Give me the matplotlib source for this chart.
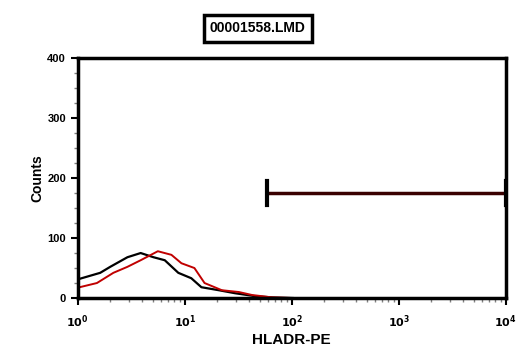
import numpy as np
import matplotlib as mpl
mpl.use('Agg')
import matplotlib.pyplot as plt
from matplotlib.ticker import MultipleLocator, FixedLocator

# data
black_x = [1.0, 1.04, 1.62, 2.01, 2.91, 3.87, 5.1, 6.5, 8.7, 11.5, 14.3, 20.8, 29.5, 45.6, 66, 102]
black_y = [32, 32, 42, 52, 68, 75, 68, 63, 42, 33, 18, 13, 8, 3, 1, 0]
red_x = [1.0, 1.04, 1.51, 2.15, 2.91, 3.87, 5.6, 7.5, 9.3, 12.3, 15.3, 22.2, 32, 42.6, 66, 102]
red_y = [18, 18, 25, 42, 52, 63, 78, 72, 58, 50, 25, 13, 10, 5, 1, 0]
gate_lo, gate_hi, gate_level = 59, 10000, 175
title = '00001558.LMD'
y_ticks = [0, 100, 200, 300, 400]
x_ticks = [1, 10, 100, 1000, 10000]

plt.rcParams['font.family'] = ['Liberation Sans', 'DejaVu Sans']
plt.rcParams['font.weight'] = 'bold'

fig = plt.figure(figsize=(5.22, 3.63), dpi=100)
ax = fig.add_axes([0.149, 0.179, 0.820, 0.661])

ax.plot(black_x, black_y, color='black', lw=1.6)
ax.plot(red_x, red_y, color='#c00000', lw=1.4)

# marker
ax.plot([gate_lo, gate_hi], [gate_level, gate_level], color='#3a0000', lw=2.5)
ax.plot([gate_lo, gate_lo], [gate_level - 20, gate_level + 20], color='black', lw=3)
ax.plot([gate_hi, gate_hi], [gate_level - 20, gate_level + 20], color='black', lw=3)

ax.set_xscale('log')
ax.set_xlim(1, 10000)
ax.set_ylim(0, 400)
ax.set_xticks(x_ticks)
ax.set_xticklabels(['$10^{%d}$' % i for i in range(5)])
ax.set_yticks(y_ticks)
ax.yaxis.set_minor_locator(MultipleLocator(25))
for s in ax.spines.values():
    s.set_linewidth(2.5)
ax.tick_params(which='major', direction='out', length=5, width=1.5, labelsize=8)
ax.tick_params(which='minor', direction='out', length=3, width=1, colors='gray')
ax.tick_params(axis='x', pad=6)

ax.set_xlabel('HLADR-PE', fontsize=11, fontweight='bold', labelpad=2)
ax.set_ylabel('Counts', fontsize=10, fontweight='bold', labelpad=2)

fig.text(0.494, 0.922, title, ha='center', va='center', fontsize=10, fontweight='bold',
         bbox=dict(boxstyle='square,pad=0.45', fc='white', ec='black', lw=2.5))

fig.savefig('out.png', dpi=100)
